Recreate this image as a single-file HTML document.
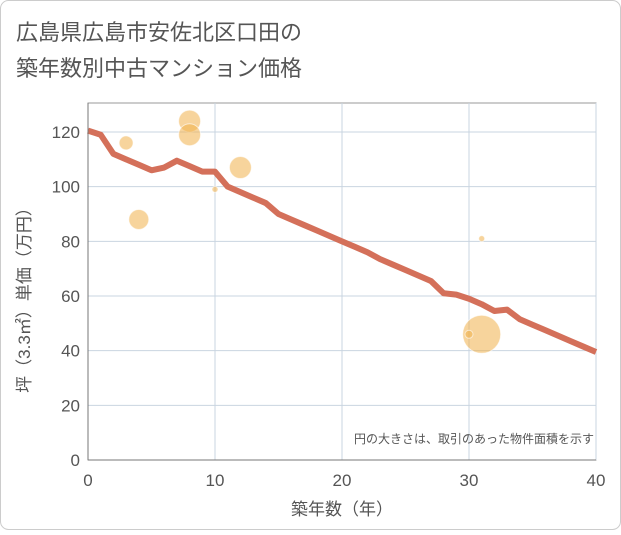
<!DOCTYPE html>
<html><head><meta charset="utf-8"><style>
body{margin:0;background:#fff;}
svg text{font-family:"Liberation Sans","Noto Sans CJK JP",sans-serif;}
</style></head><body>
<svg width="621" height="530">
<rect x="0.5" y="0.5" width="620" height="529" rx="8" fill="#fff" stroke="#ccc"/>
<text x="16" y="40" font-size="22" fill="#555">広島県広島市安佐北区口田の</text>
<text x="16" y="76" font-size="22" fill="#555">築年数別中古マンション価格</text>
<g id="grid"></g>
<g id="bubbles"></g>
<path id="line" fill="none" stroke="#d4705a" stroke-width="6" stroke-linejoin="round"/>
<g id="axes"></g>
<text x="594" y="443" font-size="12" fill="#555" text-anchor="end">円の大きさは、取引のあった物件面積を示す</text>
<text x="342" y="515" font-size="17" fill="#555" text-anchor="middle">築年数（年）</text>
<text transform="translate(30,296) rotate(-90)" font-size="17" fill="#555" text-anchor="middle">坪（3.3㎡）単価（万円）</text>
</svg>
<script>
const xTicks=[0,10,20,30,40];
const yTicks=[0,20,40,60,80,100,120];
const lineYears=[0,1,2,3,4,5,6,7,8,9,10,11,12,13,14,15,16,17,18,19,20,21,22,23,24,25,26,27,28,29,30,31,32,33,34,35,36,37,38,39,40];
const linePrices=[120.5,119,112,110,108,106,107,109.5,107.5,105.5,105.5,100,98,96,94,90,88,86,84,82,80,78,76,73.5,71.5,69.5,67.5,65.5,61,60.5,59,57,54.5,55,51.5,49.5,47.5,45.5,43.5,41.5,39.5];
const bubbleYears=[3,4,8,8,10,12,31,31,30];
const bubblePrices=[116,88,124,119,99,107,81,46,46];
const bubbleSizes=[7,10,11,11,3,11,3,19,4];
const X0=88,X1=596,Y0=460,Y1=132;
const sx=v=>X0+(v-0)/(40-0)*(X1-X0);
const sy=v=>Y0-(v-0)/(120-0)*(Y0-Y1);
const NS="http://www.w3.org/2000/svg";
const grid=document.getElementById('grid'),axes=document.getElementById('axes'),bub=document.getElementById('bubbles');
function mk(tag,attrs,parent){const e=document.createElementNS(NS,tag);for(const k in attrs)e.setAttribute(k,attrs[k]);parent.appendChild(e);return e;}
const bg=mk('rect',{x:X0,y:103,width:X1-X0,height:Y0-103,fill:'#fff',stroke:'#999'},grid);


xTicks.forEach(t=>{
 const l=mk('line',{x1:sx(t),x2:sx(t),y1:103,y2:Y0,stroke:'#c9d4e0'},grid);
 
 
 const tx=mk('text',{x:sx(t),y:Y0+26,'font-size':17,fill:'#555','text-anchor':'middle'},axes);
 tx.textContent=t;
 
 
});
yTicks.forEach(t=>{
 const l=mk('line',{x1:X0,x2:X1,y1:sy(t),y2:sy(t),stroke:'#c9d4e0'},grid);
 
 
 const tx=mk('text',{x:X0-8,y:sy(t)+6,'font-size':17,fill:'#555','text-anchor':'end'},axes);
 tx.textContent=t;
 
 
});
const ax=mk('line',{x1:X0,x2:X1,y1:Y0,y2:Y0,stroke:'#777'},axes);


const ay=mk('line',{x1:X0,x2:X0,y1:103,y2:Y0,stroke:'#777'},axes);


bubbleYears.forEach((yr,i)=>{
 const c=mk('circle',{cx:sx(yr),cy:sy(bubblePrices[i]),r:bubbleSizes[i],fill:'#f0b04a','fill-opacity':0.55,stroke:'#fff','stroke-opacity':0.6},bub);
 
 
});
document.getElementById('line').setAttribute('d',lineYears.map((y,i)=>(i?'L':'M')+sx(y)+','+sy(linePrices[i])).join(''));
</script>
</body></html>
